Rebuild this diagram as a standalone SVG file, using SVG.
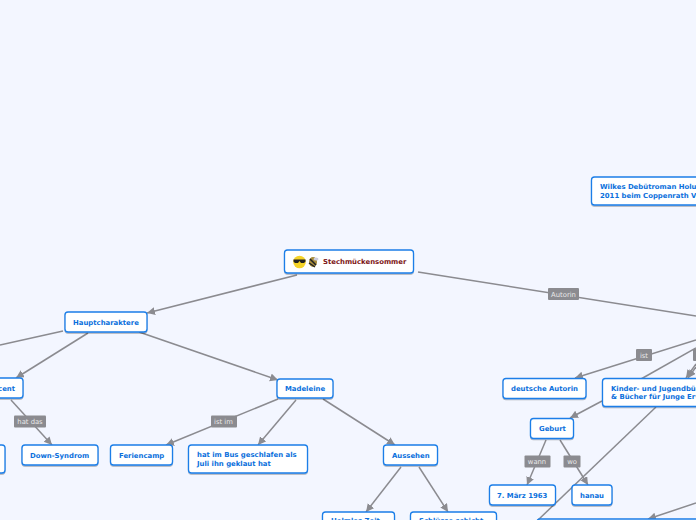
<svg xmlns="http://www.w3.org/2000/svg" width="696" height="520" viewBox="0 0 696 520">
<style>
.n{fill:#fff;stroke:#1a7ee8;stroke-width:1.3;filter:url(#s)}
.t{font:bold 6.9px "DejaVu Sans",sans-serif;fill:#0a6fdc}
.c{fill:none;stroke:#8b8b90;stroke-width:1.5}
.lb{fill:#8b8b90}
.l{font:6.8px "DejaVu Sans",sans-serif;fill:#e8e8e8;text-anchor:middle}
</style>
<defs>
<marker id="a" markerUnits="userSpaceOnUse" markerWidth="10" markerHeight="10" refX="8" refY="4" orient="auto"><path d="M0 0L8 4L0 8z" fill="#8b8b90"/></marker>
<filter id="s" x="-10%" y="-20%" width="120%" height="150%"><feDropShadow dx="0" dy="1" stdDeviation="0.7" flood-color="#000" flood-opacity="0.3"/></filter>
</defs>
<rect width="696" height="520" fill="#f3f6ff"/>
<g id="connectors">
<path class="c" marker-end="url(#a)" d="M297 275L147 313"/>
<path class="c" d="M418 272L696 316"/>
<path class="c" d="M63 331L0 345"/>
<path class="c" marker-end="url(#a)" d="M88 333L16 378"/>
<path class="c" marker-end="url(#a)" d="M139 332L278 380"/>
<path class="c" marker-end="url(#a)" d="M11 400L52 445"/>
<path class="c" marker-end="url(#a)" d="M278 399L166 445"/>
<path class="c" marker-end="url(#a)" d="M296 400L258 445"/>
<path class="c" marker-end="url(#a)" d="M323 399L395 445"/>
<path class="c" marker-end="url(#a)" d="M401 467L366 512"/>
<path class="c" marker-end="url(#a)" d="M419 467L448 512"/>
<path class="c" marker-end="url(#a)" d="M696 340L575 378"/>
<path class="c" d="M696 348L641 379"/>
<path class="c" marker-end="url(#a)" d="M602 401L570 418"/>
<path class="c" d="M656 407L538 520"/>
<path class="c" marker-end="url(#a)" d="M546 440L527 485"/>
<path class="c" marker-end="url(#a)" d="M560 440L588 485"/>
<path class="c" marker-end="url(#a)" d="M696 503L648 519"/>
<path class="c" marker-end="url(#a)" d="M696 364L686 378"/>
<path class="c" marker-end="url(#a)" d="M696 367L688 378"/>
</g>
<g id="root"><rect class="n" x="284.500" y="250" width="129" height="23" rx="3"/>
<circle cx="299.500" cy="262" r="6.300" fill="#f5d327"/><path d="M293.500 259.500H305.500V261.500L304 263H301L299.500 261L298 263H295L293.500 261.500z" fill="#222"/>
<ellipse cx="313" cy="262" rx="4" ry="5" fill="#a88c3a"/><path d="M310 259L316 265M309 263L315 267" stroke="#222" stroke-width="1.500"/><ellipse cx="316" cy="259" rx="2.500" ry="1.500" fill="#ccd"/>
<text x="323" y="264" style="font:bold 6.900px 'DejaVu Sans',sans-serif;fill:#7d1414">Stechmückensommer</text></g>
<g id="hauptcharaktere"><rect class="n" x="65" y="312" width="82" height="20" rx="3"/><text class="t" x="73" y="324.500">Hauptcharaktere</text></g>
<g id="vincent"><rect class="n" x="-40" y="378" width="63" height="20" rx="3"/><text class="t" x="15" y="391" text-anchor="end">Vincent</text></g>
<g id="left-clipped"><rect class="n" x="-40" y="445" width="45" height="28" rx="3"/></g>
<g id="down"><rect class="n" x="22" y="445" width="76" height="20" rx="3"/><text class="t" x="30" y="457.500">Down-Syndrom</text></g>
<g id="ferien"><rect class="n" x="110.500" y="445" width="62" height="20" rx="3"/><text class="t" x="119" y="457.500">Feriencamp</text></g>
<g id="madeleine"><rect class="n" x="277" y="379" width="56" height="19" rx="3"/><text class="t" x="285" y="391">Madeleine</text></g>
<g id="bus"><rect class="n" x="188.500" y="445" width="119" height="28" rx="3"/><text class="t" x="197" y="457">hat im Bus geschlafen als</text><text class="t" x="197" y="466">Juli ihn geklaut hat</text></g>
<g id="aussehen"><rect class="n" x="383.500" y="445" width="54" height="20" rx="3"/><text class="t" x="392" y="457.500">Aussehen</text></g>
<g id="a1"><rect class="n" x="322.500" y="512" width="72" height="20" rx="3"/><text class="t" x="331" y="522.500">Helmlos Zeit</text></g>
<g id="a2"><rect class="n" x="410.500" y="512" width="86" height="20" rx="3"/><text class="t" x="419" y="522.500">Schlüsse schicht</text></g>
<g id="autorin"><rect class="n" x="503" y="378.500" width="83" height="20" rx="3"/><text class="t" x="511" y="391">deutsche Autorin</text></g>
<g id="kinder"><rect class="n" x="602.500" y="378.500" width="130" height="28" rx="3"/><text class="t" x="611" y="390.500">Kinder- und Jugendbücher</text><text class="t" x="611" y="399">&amp; Bücher für Junge Erwachsene</text></g>
<g id="geburt"><rect class="n" x="530.500" y="418.500" width="43" height="20" rx="3"/><text class="t" x="539" y="431">Geburt</text></g>
<g id="datum"><rect class="n" x="489.500" y="485" width="66" height="20" rx="3"/><text class="t" x="497" y="497.500">7. März 1963</text></g>
<g id="hanau"><rect class="n" x="572" y="485" width="40" height="20" rx="3"/><text class="t" x="580" y="497.500">hanau</text></g>
<g id="wilkes"><rect class="n" x="591.500" y="177" width="150" height="28" rx="3"/><text class="t" x="600" y="189">Wilkes Debütroman Holunderweg erschien</text><text class="t" x="600" y="197.500">2011 beim Coppenrath Verlag</text></g>
<g id="bottom-node"><rect class="n" x="537" y="519" width="210" height="20" rx="3"/></g>
<g id="labels">
<rect class="lb" x="548" y="288" width="31" height="12" rx="1"/><text class="l" x="563.500" y="296.500">Autorin</text>
<rect class="lb" x="14" y="415.500" width="32" height="12" rx="1"/><text class="l" x="30" y="424">hat das</text>
<rect class="lb" x="211" y="415.500" width="26" height="12" rx="1"/><text class="l" x="223.500" y="424">ist im</text>
<rect class="lb" x="636" y="349" width="16" height="12" rx="1"/><text class="l" x="644" y="357.500">ist</text>
<rect class="lb" x="524.500" y="455.500" width="26" height="12" rx="1"/><text class="l" x="537" y="464">wann</text>
<rect class="lb" x="563.500" y="455.500" width="17" height="12" rx="1"/><text class="l" x="572" y="464">wo</text>
<rect class="lb" x="693" y="349" width="10" height="12" rx="1"/>
</g>
</svg>
